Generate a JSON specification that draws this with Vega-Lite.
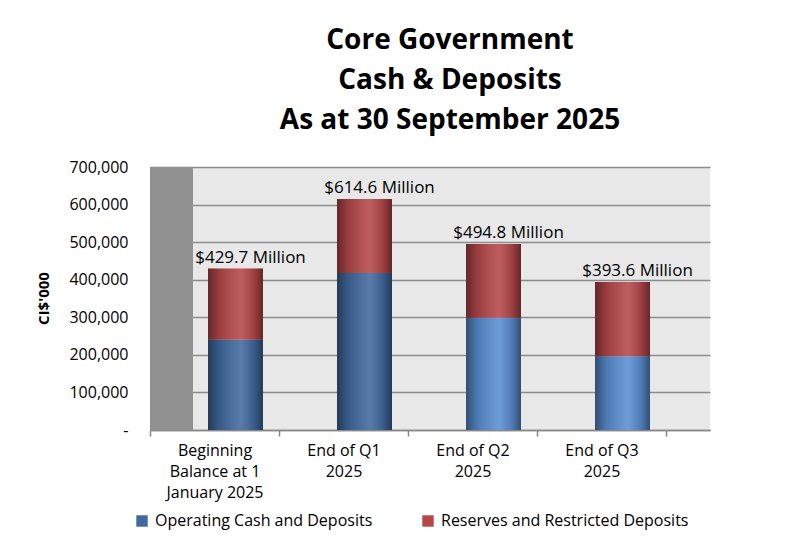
{
  "$schema": "https://vega.github.io/schema/vega-lite/v6.json",
  "autosize": {"type": "none"},
  "width": 560,
  "height": 263,
  "padding": {"left": 150, "top": 167, "right": 91, "bottom": 112},
  "background": "white",
  "title": {
    "text": ["Core Government", "Cash & Deposits", "As at 30 September 2025"],
    "font": "Open Sans",
    "fontSize": 28,
    "fontWeight": "bold",
    "color": "black",
    "lineHeight": 40,
    "anchor": "middle",
    "frame": "group",
    "offset": 24,
    "dx": 20
  },
  "config": {
    "view": {"fill": "#e8e8e8", "stroke": null},
    "font": "Open Sans",
    "axisY": {
      "labelFontSize": 16,
      "labelColor": "black",
      "ticks": false,
      "domain": false,
      "labelPadding": 22,
      "gridColor": "#8c8c8c",
      "gridWidth": 1.5,
      "labelOverlap": false,
      "titleFontSize": 15,
      "titleFontWeight": "bold",
      "titleColor": "black",
      "titleX": -107,
      "titleY": 131,
      "titleAngle": -90,
      "titleBaseline": "middle",
      "titleAlign": "center"
    }
  },
  "datasets": {
    "segments": [
      {"period": "Beginning\nBalance at 1\nJanuary 2025", "series": "Operating Cash and Deposits", "amount": 240000},
      {"period": "Beginning\nBalance at 1\nJanuary 2025", "series": "Reserves and Restricted Deposits", "amount": 189700},
      {"period": "End of Q1\n2025", "series": "Operating Cash and Deposits", "amount": 418000},
      {"period": "End of Q1\n2025", "series": "Reserves and Restricted Deposits", "amount": 196600},
      {"period": "End of Q2\n2025", "series": "Operating Cash and Deposits", "amount": 299000},
      {"period": "End of Q2\n2025", "series": "Reserves and Restricted Deposits", "amount": 195800},
      {"period": "End of Q3\n2025", "series": "Operating Cash and Deposits", "amount": 196000},
      {"period": "End of Q3\n2025", "series": "Reserves and Restricted Deposits", "amount": 197600}
    ],
    "totals": [
      {"period": "Beginning\nBalance at 1\nJanuary 2025", "total": 429700, "label": "$429.7 Million"},
      {"period": "End of Q1\n2025", "total": 614600, "label": "$614.6 Million"},
      {"period": "End of Q2\n2025", "total": 494800, "label": "$494.8 Million"},
      {"period": "End of Q3\n2025", "total": 393600, "label": "$393.6 Million"}
    ],
    "wall": [
      {"period": "Beginning\nBalance at 1\nJanuary 2025", "base": 0, "top": 700000}
    ]
  },
  "data": {"name": "segments"},
  "encoding": {
    "x": {
      "field": "period",
      "type": "nominal",
      "sort": null,
      "scale": {
        "domain": ["Beginning\nBalance at 1\nJanuary 2025", "End of Q1\n2025", "End of Q2\n2025", "End of Q3\n2025"],
        "paddingInner": 0,
        "paddingOuter": 0.1705,
        "align": 0
      },
      "axis": {
        "title": null,
        "labelAngle": 0,
        "labelExpr": "datum.value ? split(datum.value, '\\n') : ''",
        "labelFontSize": 16,
        "labelColor": "black",
        "labelLineHeight": 21,
        "labelPadding": 6,
        "labelBaseline": "top",
        "labelOverlap": false,
        "tickBand": "extent",
        "tickSize": 6,
        "tickColor": "#888888",
        "tickWidth": 1.5,
        "domainColor": "#888888",
        "domainWidth": 1.5,
        "grid": false
      }
    }
  },
  "layer": [
    {
      "data": {"name": "wall"},
      "mark": {"type": "bar", "width": 43, "xOffset": -43, "fill": "#909090"},
      "encoding": {
        "y": {
          "field": "base",
          "type": "quantitative",
          "title": "CI$'000",
          "scale": {"domain": [0, 700000], "nice": false},
          "axis": {
            "values": [0, 100000, 200000, 300000, 400000, 500000, 600000, 700000],
            "labelExpr": "datum.value === 0 ? '-' : format(datum.value, ',')"
          }
        },
        "y2": {"field": "top"}
      }
    },
    {
      "mark": {"type": "bar", "width": 55, "xOffset": 21},
      "encoding": {
        "y": {
          "field": "amount",
          "type": "quantitative",
          "stack": "zero",
          "title": "CI$'000",
          "scale": {"domain": [0, 700000], "nice": false},
          "axis": {
            "values": [0, 100000, 200000, 300000, 400000, 500000, 600000, 700000],
            "labelExpr": "datum.value === 0 ? '-' : format(datum.value, ',')"
          }
        },
        "color": {
          "field": "series",
          "type": "nominal",
          "scale": {
            "domain": ["Operating Cash and Deposits", "Reserves and Restricted Deposits"],
            "range": ["#41699f", "#b5474a"]
          },
          "condition": {
            "test": "datum.series === 'Operating Cash and Deposits' && test(/Q2|Q3/, datum.period)",
            "value": "#5a8ed2"
          },
          "legend": {
            "title": null,
            "orient": "none",
            "legendX": -16,
            "legendY": 346,
            "direction": "horizontal",
            "symbolType": "square",
            "symbolSize": 130,
            "symbolStrokeWidth": 0,
            "labelFontSize": 16,
            "labelColor": "black",
            "labelLimit": 400,
            "labelOffset": 5,
            "columnPadding": 47
          }
        },
        "order": {"field": "series", "sort": "ascending"}
      }
    },
    {
      "data": {"name": "totals"},
      "mark": {
        "type": "bar",
        "width": 55,
        "xOffset": 21,
        "fill": {
          "gradient": "linear",
          "x1": 0, "x2": 1, "y1": 0, "y2": 0,
          "stops": [
            {"offset": 0, "color": "rgba(0,0,0,0.45)"},
            {"offset": 0.2, "color": "rgba(0,0,0,0.15)"},
            {"offset": 0.6, "color": "rgba(255,255,255,0.12)"},
            {"offset": 0.85, "color": "rgba(0,0,0,0.15)"},
            {"offset": 1, "color": "rgba(0,0,0,0.45)"}
          ]
        }
      },
      "encoding": {
        "y": {
          "field": "total",
          "type": "quantitative",
          "title": "CI$'000",
          "axis": {
            "values": [0, 100000, 200000, 300000, 400000, 500000, 600000, 700000],
            "labelExpr": "datum.value === 0 ? '-' : format(datum.value, ',')"
          }
        }
      }
    },
    {
      "data": {"name": "totals"},
      "mark": {"type": "text", "dx": 36, "dy": -11, "fontSize": 17, "color": "black", "baseline": "middle", "align": "center"},
      "encoding": {
        "y": {
          "field": "total",
          "type": "quantitative",
          "title": "CI$'000",
          "axis": {
            "values": [0, 100000, 200000, 300000, 400000, 500000, 600000, 700000],
            "labelExpr": "datum.value === 0 ? '-' : format(datum.value, ',')"
          }
        },
        "text": {"field": "label"}
      }
    }
  ]
}
